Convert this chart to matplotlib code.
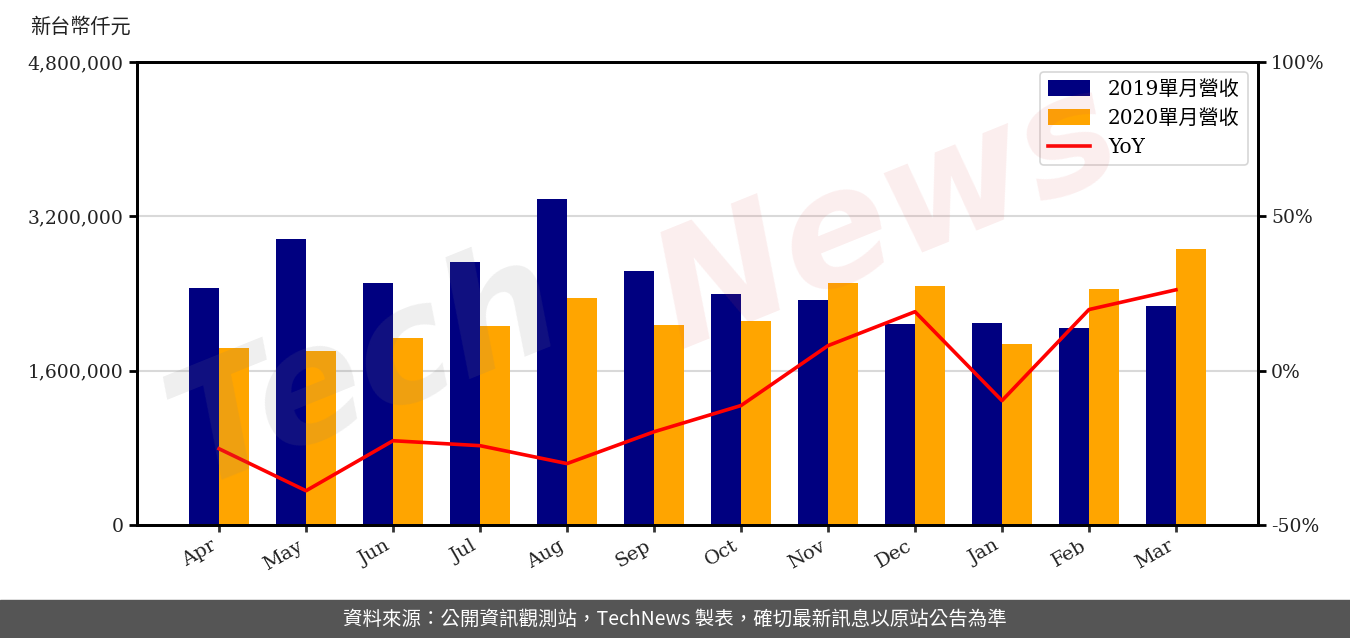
import matplotlib
matplotlib.use("Agg")
import matplotlib.pyplot as plt
import numpy as np
from matplotlib.ticker import FuncFormatter, FixedLocator
from matplotlib.patches import Rectangle

months = ["Apr", "May", "Jun", "Jul", "Aug", "Sep", "Oct", "Nov", "Dec", "Jan", "Feb", "Mar"]
rev_2019 = [2457000, 2965000, 2509000, 2727000, 3380000, 2633000, 2395000, 2333000, 2084000, 2094000, 2042000, 2270000]
rev_2020 = [1835000, 1804000, 1939000, 2063000, 2353000, 2073000, 2115000, 2509000, 2478000, 1876000, 2447000, 2861000]
yoy = [-25.3, -38.9, -22.7, -24.3, -30.1, -19.8, -11.3, 8.1, 19.1, -9.7, 19.8, 26.2]
left_ticks = [0, 1600000, 3200000, 4800000]
right_ticks = [-50, 0, 50, 100]

SERIF = ["DejaVu Serif", "Noto Sans CJK TC"]
CJK = ["Noto Sans CJK TC", "DejaVu Sans"]
FS = 13.5

fig = plt.figure(figsize=(13.5, 6.38), dpi=100)
ax = fig.add_axes([137/1350, 1-525/638, (1258-137)/1350, (525-62)/638])
ax2 = ax.twinx()

x = np.arange(len(months))
w = 0.35
ax.bar(x - w, rev_2019, width=w, align="edge", color="#000080", label="2019單月營收", zorder=2)
ax.bar(x, rev_2020, width=w, align="edge", color="#FFA500", label="2020單月營收", zorder=2)
ax2.plot(x, yoy, color="#FF0000", linewidth=2.6, label="YoY", zorder=3)

ax.set_xlim(-0.943, 11.943)
ax.set_ylim(0, 4800000)
ax2.set_ylim(-50, 100)
ax.yaxis.set_major_locator(FixedLocator(left_ticks))
ax2.yaxis.set_major_locator(FixedLocator(right_ticks))
ax.yaxis.set_major_formatter(FuncFormatter(lambda v, p: f"{int(v):,}"))
ax2.yaxis.set_major_formatter(FuncFormatter(lambda v, p: f"{int(v)}%"))
ax.set_xticks(x)
ax.set_xticklabels(months, rotation=30, ha="right", family=SERIF, fontsize=14)
for lab in ax.get_yticklabels():
    lab.set_family(SERIF); lab.set_fontsize(FS)
for lab in ax2.get_yticklabels():
    lab.set_family(SERIF); lab.set_fontsize(FS)

ax.grid(axis="y", color="#d9d9d9", linewidth=1.5, zorder=0)
ax.set_axisbelow(True)
for a in (ax, ax2):
    for s in a.spines.values():
        s.set_linewidth(2)
        s.set_color("black")
    a.tick_params(axis="both", direction="out", length=6, width=2, colors="black", labelcolor="#222222")
ax.tick_params(axis="x", length=5, width=2, color="#333333")

h1, l1 = ax.get_legend_handles_labels()
h2, l2 = ax2.get_legend_handles_labels()
leg = ax2.legend(h1 + h2, l1 + l2, loc="upper right", prop={"family": SERIF, "size": 14.5},
                 frameon=True, edgecolor="#cccccc", fancybox=True, borderpad=0.4,
                 handlelength=2.1, handleheight=0.8, handletextpad=0.9, labelspacing=0.5,
                 borderaxespad=0.5)
leg.get_frame().set_linewidth(1.2)

fig.text(30/1350, 1-27/638, "新台幣仟元", family=CJK, fontsize=14.5, va="center", ha="left", color="#222222")

# watermark
fig.text(0.11, 0.42, "Tech", fontsize=115, fontstyle="italic", fontweight="bold",
         color="#808080", alpha=0.13, rotation=22, family="DejaVu Sans", ha="left", va="center", zorder=10)
fig.text(0.47, 0.66, "News", fontsize=115, fontstyle="italic", fontweight="bold",
         color="#e05555", alpha=0.10, rotation=22, family="DejaVu Sans", ha="left", va="center", zorder=10)

# footer
fig.patches.append(Rectangle((0, 0), 1, 38/638, transform=fig.transFigure, color="#555555", zorder=0))
fig.text(0.5, 19/638, "資料來源：公開資訊觀測站，TechNews 製表，確切最新訊息以原站公告為準",
         family=CJK, fontsize=14, color="white", ha="center", va="center")

fig.savefig("out.png", dpi=100, facecolor="white")
